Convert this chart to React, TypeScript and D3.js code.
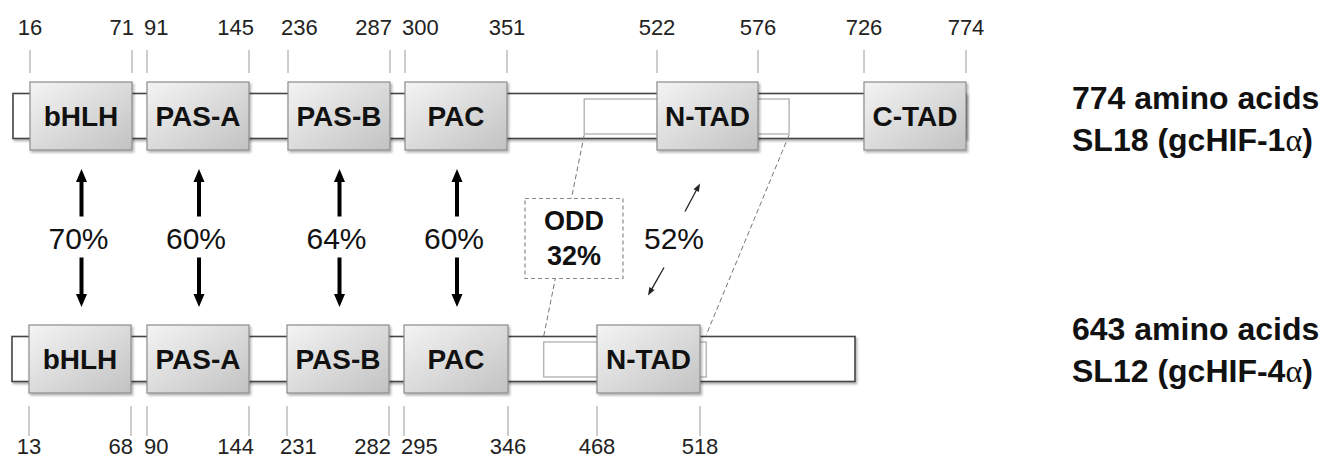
import React from 'react';
import * as d3 from 'd3';

// domain boundaries (amino acid positions)
const hif1Names = ['bHLH', 'PAS-A', 'PAS-B', 'PAC', 'N-TAD', 'C-TAD'];
const hif1Starts = [16, 91, 236, 300, 522, 726];
const hif1Ends = [71, 145, 287, 351, 576, 774];
const hif1Length = 774;
const hif1Odd = [439, 620];

const hif4Names = ['bHLH', 'PAS-A', 'PAS-B', 'PAC', 'N-TAD'];
const hif4Starts = [13, 90, 231, 295, 468];
const hif4Ends = [68, 144, 282, 346, 518];
const hif4Length = 643;
const hif4Odd = [395, 523];

// % identity between the paired domains
const identity = [70, 60, 64, 60];
const oddIdentity = 32;
const ntadIdentity = 52;

const rightLabels1 = ['774 amino acids', 'SL18 (gcHIF-1'];
const rightLabels4 = ['643 amino acids', 'SL12 (gcHIF-4'];

const W = 1331;
const H = 459;
const FONT = '"Liberation Sans", Arial, Helvetica, sans-serif';

const row1 = 116; // vertical centre of SL18
const row2 = 359; // vertical centre of SL12
const boxH = 68;
const bbH = 45;

const breaks = (starts: number[], ends: number[], len: number) => {
  const b = [1, ...d3.merge<number>(starts.map((s, i) => [s, ends[i]]))];
  if (b[b.length - 1] !== len) b.push(len);
  return b;
};

// schematic (not to scale) polylinear axes, one per protein
const x1 = d3.scaleLinear()
  .domain(breaks(hif1Starts, hif1Ends, hif1Length))
  .range([13, 30, 132, 147, 249, 288, 390, 405, 507, 657, 758, 864, 966]);
const x4 = d3.scaleLinear()
  .domain(breaks(hif4Starts, hif4Ends, hif4Length))
  .range([12, 29, 131, 147, 249, 287, 389, 404, 508, 597, 700, 855]);

function arrowPath(x0: number, y0: number, x1: number, y1: number, shaft: number, headW: number, headL: number) {
  const dx = x1 - x0, dy = y1 - y0;
  const len = Math.hypot(dx, dy);
  const ux = dx / len, uy = dy / len;
  const nx = -uy, ny = ux;
  const bx = x1 - ux * headL, by = y1 - uy * headL;
  const p = d3.path();
  p.moveTo(x0 + nx * shaft / 2, y0 + ny * shaft / 2);
  p.lineTo(bx + nx * shaft / 2, by + ny * shaft / 2);
  p.lineTo(bx + nx * headW / 2, by + ny * headW / 2);
  p.lineTo(x1, y1);
  p.lineTo(bx - nx * headW / 2, by - ny * headW / 2);
  p.lineTo(bx - nx * shaft / 2, by - ny * shaft / 2);
  p.lineTo(x0 - nx * shaft / 2, y0 - ny * shaft / 2);
  p.closePath();
  return p.toString();
}

interface ProteinProps {
  names: string[];
  starts: number[];
  ends: number[];
  length: number;
  odd: number[];
  x: d3.ScaleLinear<number, number>;
  cy: number;
  above: boolean;
}

const Protein: React.FC<ProteinProps> = ({ names, starts, ends, length, odd, x, cy, above }) => {
  const ticks = d3.merge<number>(starts.map((s, i) => [s, ends[i]]));
  const px = ticks.map(t => x(t));
  const t0 = above ? cy - 66 : cy + 47;
  const t1 = above ? cy - 43 : cy + 77;
  const ly = above ? cy - 81 : cy + 95;
  return (
    <g>
      <rect x={x(1)} y={cy - bbH / 2} width={x(length) - x(1)} height={bbH}
        fill="#fff" stroke="#444" strokeWidth={1.6} filter="url(#shadow)" />
      <rect x={x(odd[0])} y={cy - 17} width={x(odd[1]) - x(odd[0])} height={35}
        fill="#fff" stroke="#a8a8a8" strokeWidth={1.2} />
      {names.map((n, i) => (
        <g key={n}>
          <rect x={x(starts[i])} y={cy - boxH / 2} width={x(ends[i]) - x(starts[i])} height={boxH}
            fill="url(#boxGrad)" stroke="#8c8c8c" strokeWidth={1.2} filter="url(#shadow)" />
          <text x={(x(starts[i]) + x(ends[i])) / 2} y={cy + 10} textAnchor="middle"
            fontFamily={FONT} fontWeight="bold" fontSize={28} fill="#111">{n}</text>
        </g>
      ))}
      {ticks.map((t, i) => {
        const gapNext = i < px.length - 1 ? px[i + 1] - px[i] : Infinity;
        const gapPrev = i > 0 ? px[i] - px[i - 1] : Infinity;
        const closeNext = gapNext < 50;
        const closePrev = gapPrev < 50;
        const anchor = closeNext ? 'end' : closePrev ? 'start' : 'middle';
        const dx = closeNext ? (gapNext < 25 ? 2 : 5) : closePrev ? (gapPrev < 25 ? -3 : -7) : 0;
        return (
          <g key={t}>
            <line x1={px[i]} x2={px[i]} y1={t0} y2={t1} stroke="#9a9a9a" strokeWidth={1} />
            <text x={px[i] + dx} y={ly} textAnchor={anchor} fontFamily={FONT}
              fontSize={22} fill="#222">{t}</text>
          </g>
        );
      })}
    </g>
  );
};

const App: React.FC = () => {
  const midY = (row1 + boxH / 2 + row2 - boxH / 2) / 2;
  const topBot = row1 + boxH / 2;
  const botTop = row2 - boxH / 2;

  const oddLeft = [x1(hif1Odd[0]), row1 + 19, x4(hif4Odd[0]), row2 - 23];
  const oddRight = [x1(hif1Odd[1]), row1 + 19, x4(hif4Odd[1]), row2 - 24];
  const oddCx = (oddLeft[0] + oddLeft[2]) / 2 + 10;

  const ntadX = (x1((hif1Starts[4] + hif1Ends[4]) / 2) + x4((hif4Starts[4] + hif4Ends[4]) / 2)) / 2 - 4;

  return (
    <svg width={W} height={H} style={{ position: 'absolute', left: 0, top: 0, background: '#fff' }}>
      <defs>
        <linearGradient id="boxGrad" x1="0" y1="0" x2="1" y2="1">
          <stop offset="0%" stopColor="#f4f4f4" />
          <stop offset="100%" stopColor="#c2c2c2" />
        </linearGradient>
        <filter id="shadow" x="-5%" y="-10%" width="115%" height="130%">
          <feDropShadow dx={1.5} dy={2} stdDeviation={1} floodColor="#000" floodOpacity={0.3} />
        </filter>
      </defs>
      <rect width={W} height={H} fill="#fff" />

      <Protein names={hif1Names} starts={hif1Starts} ends={hif1Ends} length={hif1Length}
        odd={hif1Odd} x={x1} cy={row1} above={true} />
      <Protein names={hif4Names} starts={hif4Starts} ends={hif4Ends} length={hif4Length}
        odd={hif4Odd} x={x4} cy={row2} above={false} />

      {/* identity arrows for bHLH..PAC */}
      {identity.map((v, i) => {
        const cx = (x1(hif1Starts[i]) + x1(hif1Ends[i]) + x4(hif4Starts[i]) + x4(hif4Ends[i])) / 4 + 1;
        return (
          <g key={i}>
            <path d={arrowPath(cx, midY - 21, cx, topBot + 19, 4, 11, 13)} fill="#000" />
            <path d={arrowPath(cx, midY + 20, cx, botTop - 18, 4, 11, 13)} fill="#000" />
            <text x={cx - 3} y={midY + 11} textAnchor="middle" fontFamily={FONT}
              fontSize={30} fill="#111">{v}%</text>
          </g>
        );
      })}

      {/* ODD connection */}
      <line x1={oddLeft[0]} y1={oddLeft[1]} x2={oddLeft[2]} y2={oddLeft[3]}
        stroke="#777" strokeWidth={1} strokeDasharray="5,3" />
      <line x1={oddRight[0]} y1={oddRight[1]} x2={oddRight[2]} y2={oddRight[3]}
        stroke="#777" strokeWidth={1} strokeDasharray="5,3" />
      <rect x={oddCx - 49} y={midY - 39} width={98} height={80} fill="#fff"
        stroke="#8a8a8a" strokeWidth={1.2} strokeDasharray="4,3" />
      <text x={oddCx} y={midY - 8} textAnchor="middle" fontFamily={FONT} fontWeight="bold"
        fontSize={27} fill="#111">ODD</text>
      <text x={oddCx} y={midY + 27} textAnchor="middle" fontFamily={FONT} fontWeight="bold"
        fontSize={27} fill="#111">{oddIdentity}%</text>

      {/* N-TAD */}
      <text x={ntadX} y={midY + 11} textAnchor="middle" fontFamily={FONT}
        fontSize={30} fill="#111">{ntadIdentity}%</text>
      <path d={arrowPath(ntadX + 11, midY - 26, ntadX + 26, midY - 54, 1.3, 6, 8)} fill="#222" />
      <path d={arrowPath(ntadX - 10, midY + 30, ntadX - 26, midY + 58, 1.3, 6, 8)} fill="#222" />

      {/* right-hand labels */}
      {[{ l: rightLabels1, y: 109 }, { l: rightLabels4, y: 340 }].map(({ l, y }) => (
        <g key={l[0]} fontFamily={FONT} fontWeight="bold" fontSize={32} fill="#111">
          <text x={1072} y={y}>{l[0]}</text>
          <text x={1072} y={y + 42}>
            {l[1]}
            <tspan fontFamily='"Liberation Serif", "Times New Roman", serif' fontWeight="normal">α</tspan>
            )
          </text>
        </g>
      ))}
    </svg>
  );
};

export default App;
